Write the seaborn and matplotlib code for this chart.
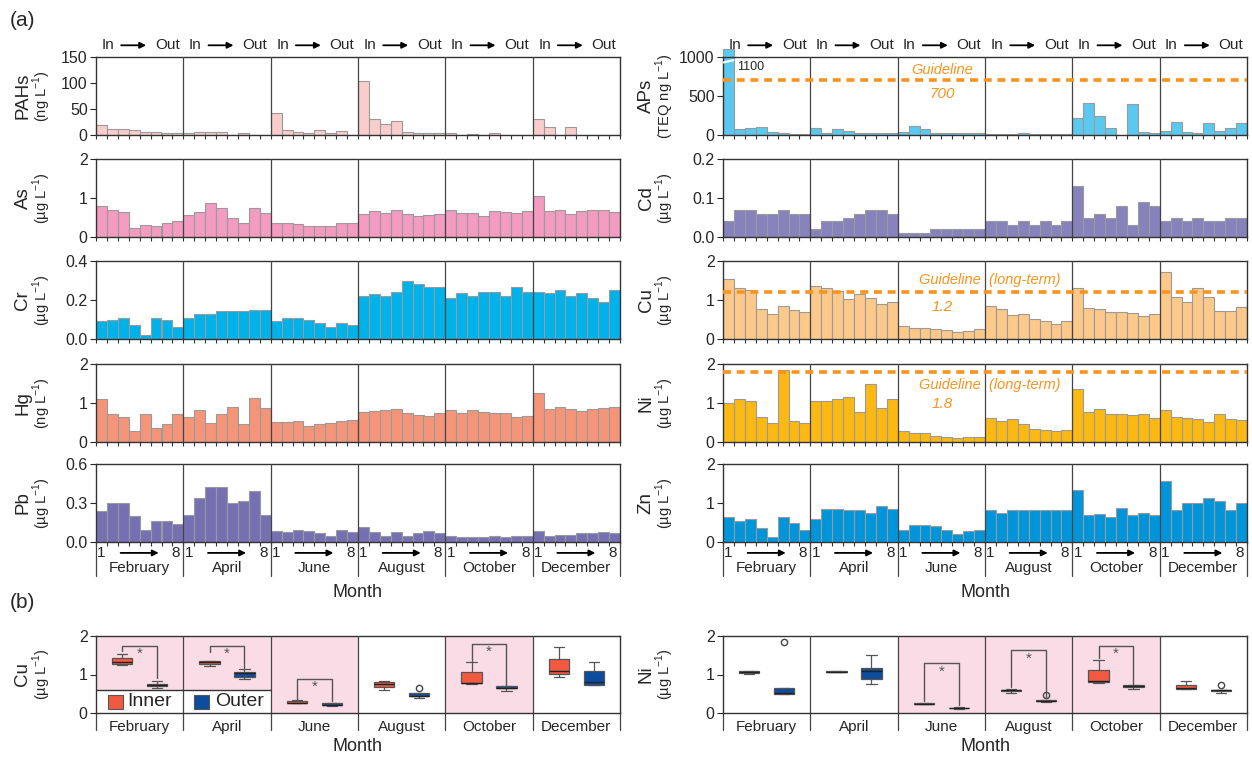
import numpy as np
import pandas as pd
import matplotlib
matplotlib.use("Agg")
import matplotlib.pyplot as plt
import matplotlib.transforms as mtransforms
from matplotlib.patches import Rectangle
import seaborn as sns

# ---- data : 8 stations (In -> Out) per sampling month ----
months = ["February", "April", "June", "August", "October", "December"]

pahs = [20, 12, 12, 9, 6, 6, 4, 4,
        4, 6, 6, 5, 0, 4, 0, 0,
        43, 10, 6, 3, 10, 4, 7, 0,
        104, 30, 22, 26, 5, 3, 3, 3,
        4, 0, 2, 0, 4, 0, 0, 0,
        30, 15, 0, 15, 0, 0, 0, 0]
aps = [1100, 75, 87, 100, 40, 30, 18, 18,
       90, 22, 75, 56, 30, 30, 20, 20,
       40, 120, 78, 20, 30, 30, 20, 30,
       15, 15, 15, 30, 15, 15, 15, 15,
       220, 410, 250, 90, 5, 398, 40, 20,
       50, 170, 40, 30, 152, 50, 90, 152]
as_ = [0.80, 0.68, 0.63, 0.24, 0.31, 0.27, 0.35, 0.42,
       0.56, 0.64, 0.87, 0.74, 0.50, 0.35, 0.74, 0.62,
       0.35, 0.35, 0.33, 0.29, 0.27, 0.29, 0.35, 0.35,
       0.58, 0.66, 0.62, 0.69, 0.58, 0.53, 0.56, 0.59,
       0.69, 0.62, 0.62, 0.53, 0.66, 0.64, 0.62, 0.66,
       1.06, 0.66, 0.69, 0.59, 0.66, 0.69, 0.69, 0.64]
cd = [0.04, 0.07, 0.07, 0.06, 0.06, 0.07, 0.06, 0.06,
      0.02, 0.04, 0.04, 0.05, 0.06, 0.07, 0.07, 0.06,
      0.01, 0.01, 0.01, 0.02, 0.02, 0.02, 0.02, 0.02,
      0.04, 0.04, 0.03, 0.04, 0.03, 0.04, 0.03, 0.04,
      0.13, 0.05, 0.06, 0.05, 0.08, 0.03, 0.09, 0.08,
      0.04, 0.05, 0.04, 0.05, 0.04, 0.04, 0.05, 0.05]
cr = [0.09, 0.10, 0.11, 0.07, 0.02, 0.11, 0.10, 0.06,
      0.11, 0.13, 0.13, 0.145, 0.145, 0.145, 0.15, 0.15,
      0.09, 0.11, 0.11, 0.10, 0.08, 0.06, 0.08, 0.07,
      0.22, 0.23, 0.22, 0.24, 0.295, 0.28, 0.265, 0.265,
      0.21, 0.235, 0.22, 0.24, 0.24, 0.22, 0.265, 0.24,
      0.24, 0.235, 0.25, 0.22, 0.235, 0.21, 0.19, 0.25]
cu = [1.54, 1.32, 1.25, 0.76, 0.64, 0.84, 0.74, 0.69,
      1.36, 1.32, 1.22, 1.03, 1.15, 1.06, 0.89, 0.94,
      0.33, 0.27, 0.27, 0.25, 0.22, 0.17, 0.20, 0.25,
      0.84, 0.76, 0.61, 0.64, 0.51, 0.45, 0.39, 0.45,
      1.32, 0.79, 0.76, 0.70, 0.70, 0.66, 0.58, 0.64,
      1.71, 1.08, 0.94, 1.32, 1.08, 0.72, 0.72, 0.81]
hg = [1.09, 0.72, 0.65, 0.28, 0.71, 0.37, 0.45, 0.71,
      0.65, 0.81, 0.49, 0.72, 0.91, 0.45, 1.12, 0.88,
      0.51, 0.51, 0.55, 0.41, 0.47, 0.49, 0.55, 0.57,
      0.78, 0.79, 0.82, 0.84, 0.75, 0.68, 0.66, 0.75,
      0.82, 0.75, 0.82, 0.78, 0.75, 0.75, 0.65, 0.67,
      1.26, 0.85, 0.90, 0.84, 0.80, 0.84, 0.86, 0.90]
ni = [1.01, 1.10, 1.06, 0.65, 0.49, 1.85, 0.53, 0.49,
      1.06, 1.06, 1.10, 1.16, 0.76, 1.50, 0.88, 1.10,
      0.27, 0.23, 0.23, 0.16, 0.14, 0.10, 0.12, 0.13,
      0.62, 0.53, 0.59, 0.47, 0.34, 0.32, 0.29, 0.32,
      1.37, 0.78, 0.84, 0.71, 0.73, 0.68, 0.73, 0.62,
      0.82, 0.65, 0.62, 0.59, 0.52, 0.73, 0.59, 0.56]
pb = [0.24, 0.30, 0.30, 0.20, 0.09, 0.16, 0.16, 0.14,
      0.205, 0.335, 0.42, 0.42, 0.30, 0.315, 0.395, 0.205,
      0.087, 0.08, 0.095, 0.087, 0.067, 0.05, 0.095, 0.08,
      0.115, 0.08, 0.05, 0.08, 0.05, 0.067, 0.087, 0.067,
      0.05, 0.035, 0.035, 0.035, 0.05, 0.035, 0.05, 0.05,
      0.087, 0.05, 0.055, 0.055, 0.067, 0.067, 0.08, 0.067]
zn = [0.63, 0.53, 0.60, 0.36, 0.12, 0.63, 0.48, 0.31,
      0.59, 0.85, 0.85, 0.83, 0.83, 0.74, 0.92, 0.85,
      0.32, 0.43, 0.44, 0.40, 0.31, 0.20, 0.28, 0.32,
      0.81, 0.74, 0.83, 0.81, 0.83, 0.83, 0.83, 0.83,
      1.33, 0.69, 0.72, 0.63, 0.88, 0.69, 0.74, 0.69,
      1.57, 0.83, 1.00, 1.00, 1.12, 1.05, 0.83, 1.00]

guide_aps = 700
guide_cu = 1.2
guide_ni = 1.8
n_inner = 3          # stations 1-3 = inner, 4-8 = outer
sig_cu = ["February", "April", "June", "October"]
sig_ni = ["June", "August", "October"]

# ---- style ----
sns.set_style("ticks")
plt.rcParams['font.family'] = ['Liberation Sans', 'DejaVu Sans']
plt.rcParams['mathtext.fontset'] = 'custom'
plt.rcParams['mathtext.rm'] = 'Liberation Sans'
plt.rcParams['axes.linewidth'] = 1.0
plt.rcParams['axes.edgecolor'] = '#333333'

EDGE = '#9a9a9a'
DIV = '#444444'
ORANGE = '#F7941D'
PINK = '#FADCE7'
INNER = '#F15A40'
OUTER = '#0D4C9E'
TICK_FS = 11.5
TXT_FS = 11

W, H = 1252, 761
fig = plt.figure(figsize=(W / 100, H / 100), dpi=100)


def px_axes(x0, top, w=524, h=78):
    return fig.add_axes([x0 / W, 1 - (top + h) / H, w / W, h / H])


def ylab(x_main, x_unit, ax, name, unit):
    pos = ax.get_position()
    yc = (pos.y0 + pos.y1) / 2
    fig.text(x_main / W, yc, name, rotation=90, ha='center', va='center', fontsize=13.5)
    fig.text(x_unit / W, yc, unit, rotation=90, ha='center', va='center', fontsize=10.5)


def bar_panel(ax, vals, color, yticks, fmt, top=False, bottom=False):
    df = pd.DataFrame({"pos": np.arange(len(vals)), "val": vals})
    sns.barplot(data=df, x="pos", y="val", color=color, width=1.0, saturation=1,
                edgecolor=EDGE, linewidth=0.8, errorbar=None, ax=ax)
    ax.set_xlim(-0.5, 47.5)
    ax.set_ylim(yticks[0], yticks[-1])
    for p in ax.patches:
        if p.get_height() > yticks[-1]:
            p.set_clip_on(False)
    ax.set_yticks(yticks)
    ax.set_yticklabels([fmt.format(t) for t in yticks], fontsize=TICK_FS)
    ax.set_xticks(np.arange(-0.5, 48, 1))
    ax.set_xticklabels([])
    ax.tick_params(axis='x', length=3, width=0.8, color='#333333')
    ax.tick_params(axis='y', length=4, width=0.8, pad=2)
    ax.set_xlabel("")
    ax.set_ylabel("")
    for b in np.arange(7.5, 40, 8):
        ax.axvline(b, color=DIV, lw=0.9, zorder=3)
    trans = mtransforms.blended_transform_factory(ax.transData, ax.transAxes)
    if top:
        for m in range(6):
            x0 = m * 8
            ax.text(x0 + 0.0, 1.15, "In", transform=trans, ha='left', va='center', fontsize=TXT_FS)
            ax.text(x0 + 7.15, 1.15, "Out", transform=trans, ha='right', va='center', fontsize=TXT_FS)
            ax.annotate('', xy=(x0 + 4.35, 1.15), xytext=(x0 + 1.55, 1.15),
                        xycoords=trans, textcoords=trans,
                        arrowprops=dict(arrowstyle='-|>', color='black', lw=1.3, mutation_scale=9))
    if bottom:
        for b in np.arange(-0.5, 48, 8):
            ax.plot([b, b], [0, -0.43], transform=trans, clip_on=False, color=DIV, lw=0.9)
        for m, name in enumerate(months):
            x0 = m * 8
            ax.text(x0, -0.14, "1", transform=trans, ha='center', va='center', fontsize=TXT_FS)
            ax.text(x0 + 7.2, -0.14, "8", transform=trans, ha='right', va='center', fontsize=TXT_FS)
            ax.annotate('', xy=(x0 + 5.5, -0.14), xytext=(x0 + 1.5, -0.14),
                        xycoords=trans, textcoords=trans,
                        arrowprops=dict(arrowstyle='-|>', color='black', lw=1.3, mutation_scale=9))
            ax.text(x0 + 3.5, -0.33, name, transform=trans, ha='center', va='center', fontsize=TXT_FS)
        ax.text(0.5, -0.65, "Month", transform=ax.transAxes, ha='center', va='center', fontsize=13)
    return trans


def guideline(ax, value, label, x_lab, y_lab, vlabel, y_val):
    ax.axhline(value, color=ORANGE, lw=2.6, ls=(0, (2.2, 1.6)), zorder=4)
    ax.text(x_lab, y_lab, label, ha='center', va='center',
            color=ORANGE, style='italic', fontsize=10.5)
    ax.text(19.6, y_val, vlabel, ha='center', va='center', color=ORANGE, style='italic', fontsize=11)


tops = [57, 159, 261, 364, 464]
LX, RX = 96, 723

left = [("PAHs", "(ng L$^{-1}$)", pahs, '#F9CDCC', [0, 50, 100, 150], "{:.0f}"),
        ("As", "(µg L$^{-1}$)", as_, '#F39BC0', [0, 1, 2], "{:.0f}"),
        ("Cr", "(µg L$^{-1}$)", cr, '#00B2EA', [0.0, 0.2, 0.4], "{:.1f}"),
        ("Hg", "(ng L$^{-1}$)", hg, '#F4957A', [0, 1, 2], "{:.0f}"),
        ("Pb", "(µg L$^{-1}$)", pb, '#7670B3', [0.0, 0.3, 0.6], "{:.1f}")]
right = [("APs", "(TEQ ng L$^{-1}$)", aps, '#5BC8F0', [0, 500, 1000], "{:.0f}"),
         ("Cd", "(µg L$^{-1}$)", cd, '#8782BC', [0.0, 0.1, 0.2], "{:.1f}"),
         ("Cu", "(µg L$^{-1}$)", cu, '#FDC98B', [0, 1, 2], "{:.0f}"),
         ("Ni", "(µg L$^{-1}$)", ni, '#FDB913', [0, 1, 2], "{:.0f}"),
         ("Zn", "(µg L$^{-1}$)", zn, '#0095DA', [0, 1, 2], "{:.0f}")]

for i, (name, unit, vals, col, yt, fmt) in enumerate(left):
    ax = px_axes(LX, tops[i])
    bar_panel(ax, vals, col, yt, fmt, top=(i == 0), bottom=(i == 4))
    ylab(23, 42, ax, name, unit)

for i, (name, unit, vals, col, yt, fmt) in enumerate(right):
    ax = px_axes(RX, tops[i])
    bar_panel(ax, vals, col, yt, fmt, top=(i == 0), bottom=(i == 4))
    ylab(646, 665, ax, name, unit)
    if name == "APs":
        guideline(ax, guide_aps, "Guideline", 19.6, 835, "700", 530)
        ax.plot([-0.45, 0.45], [930, 960], color='white', lw=1.6, clip_on=False, zorder=5)
        ax.text(0.75, 870, "1100", ha='left', va='center', fontsize=9)
    elif name == "Cu":
        guideline(ax, guide_cu, "Guideline  (long-term)", 23.9, 1.52, "1.2", 0.83)
    elif name == "Ni":
        guideline(ax, guide_ni, "Guideline  (long-term)", 23.9, 1.46, "1.8", 0.98)

# ---- (b) inner vs outer boxplots ----
rows = []
for metal, vals in [("Cu", cu), ("Ni", ni)]:
    for m, month in enumerate(months):
        for s in range(8):
            rows.append({"metal": metal, "month": month,
                         "zone": "Inner" if s < n_inner else "Outer",
                         "value": vals[m * 8 + s]})
box_df = pd.DataFrame(rows)

brackets = {
    "Cu": [("February", 1.73, 1.60, 0.90, 1.55), ("April", 1.73, 1.58, 1.16, 1.55),
           ("June", 0.88, 0.36, 0.30, 0.68), ("October", 1.78, 1.35, 0.72, 1.58)],
    "Ni": [("June", 1.29, 0.30, 0.21, 1.08), ("August", 1.63, 0.67, 0.38, 1.42),
           ("October", 1.73, 1.42, 0.76, 1.55)],
}

for x0, metal, sig in [(LX, "Cu", sig_cu), (RX, "Ni", sig_ni)]:
    ax = px_axes(x0, 636, h=77)
    sub = box_df[box_df.metal == metal]
    for m, month in enumerate(months):
        if month in sig:
            low = 0.3 if (metal == "Cu" and m < 2) else 0.0
            ax.axvspan(m - 0.5, m + 0.5, ymin=low, color=PINK, lw=0, zorder=0)
    sns.boxplot(data=sub, x="month", y="value", hue="zone", order=months,
                hue_order=["Inner", "Outer"], palette={"Inner": INNER, "Outer": OUTER},
                width=0.8, gap=0.42, saturation=1, linecolor='#555555', linewidth=0.9,
                fliersize=4.5, flierprops=dict(marker='o', markerfacecolor='none',
                                               markeredgecolor='#444444', markeredgewidth=1),
                medianprops=dict(color='#222222', linewidth=1.0), legend=False, ax=ax)
    ax.set_xlim(-0.5, 5.5)
    ax.set_ylim(0, 2)
    ax.set_yticks([0, 1, 2])
    ax.set_yticklabels(["0", "1", "2"], fontsize=TICK_FS)
    ax.set_xticks([])
    ax.tick_params(axis='y', length=4, width=0.8, pad=2)
    ax.set_xlabel("")
    ax.set_ylabel("")
    trans = mtransforms.blended_transform_factory(ax.transData, ax.transAxes)
    for b in np.arange(0.5, 5, 1):
        ax.axvline(b, color=DIV, lw=0.9, zorder=3)
    for b in np.arange(-0.5, 6, 1):
        ax.plot([b, b], [0, -0.22], transform=trans, clip_on=False, color=DIV, lw=0.9)
    for m, month in enumerate(months):
        ax.text(m, -0.18, month, transform=trans, ha='center', va='center', fontsize=TXT_FS)
    ax.text(0.5, -0.44, "Month", transform=ax.transAxes, ha='center', va='center', fontsize=13)
    for month, ytop, yl, yr, ys in brackets[metal]:
        m = months.index(month)
        ax.plot([m - 0.2, m - 0.2, m + 0.2, m + 0.2], [yl, ytop, ytop, yr],
                color='#555555', lw=1.0, zorder=4)
        ax.text(m, ys, "*", ha='center', va='center', fontsize=11, color='#555555')
    if metal == "Cu":
        ax.plot([-0.5, 1.5], [0.6, 0.6], color='#333333', lw=1.0, zorder=4)
        ax.add_patch(Rectangle((-0.36, 0.1), 0.17, 0.37, facecolor=INNER, edgecolor='#555555', lw=0.8, zorder=5))
        ax.text(-0.14, 0.29, "Inner", ha='left', va='center', fontsize=14)
        ax.add_patch(Rectangle((0.62, 0.1), 0.17, 0.37, facecolor=OUTER, edgecolor='#555555', lw=0.8, zorder=5))
        ax.text(0.86, 0.29, "Outer", ha='left', va='center', fontsize=14)
    ylab(23 if metal == "Cu" else 646, 42 if metal == "Cu" else 665, ax, metal, "(µg L$^{-1}$)")

fig.text(10 / W, 1 - 20 / H, "(a)", ha='left', va='center', fontsize=15)
fig.text(10 / W, 1 - 603 / H, "(b)", ha='left', va='center', fontsize=15)

fig.savefig("out.png", dpi=100)
